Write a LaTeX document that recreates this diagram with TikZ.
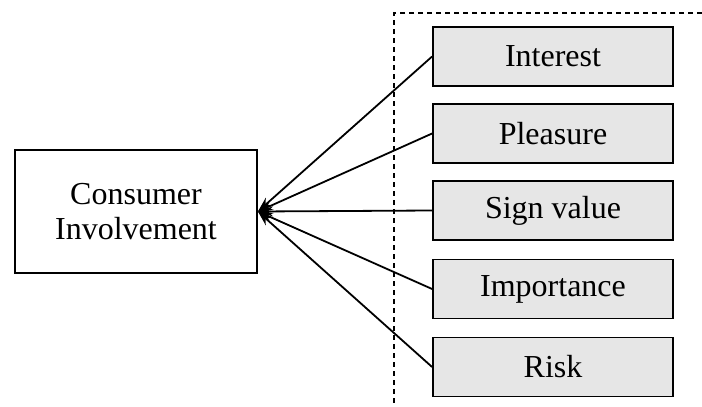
\documentclass[tikz,border=0pt]{standalone}
\usepackage{fontspec}
\setmainfont{Liberation Serif}
\usetikzlibrary{arrows.meta}
\definecolor{boxgray}{HTML}{E6E6E6}
\begin{document}
\begin{tikzpicture}[x=1pt,y=-1pt,
  factor/.style={draw,line width=1.8pt,fill=boxgray,minimum width=240pt,minimum height=59pt,inner sep=0pt,font=\fontsize{32}{36}\selectfont},
  mainbox/.style={draw,line width=1.8pt,fill=white,minimum width=242pt,minimum height=123pt,inner sep=0pt,align=center,font=\fontsize{32}{35}\selectfont},
  link/.style={line width=1.8pt,-{Stealth[length=15pt,width=10pt]}}]
\useasboundingbox (0,0) rectangle (702,407);
% dashed frame around the factors
\draw[line width=1.6pt,dash pattern=on 5pt off 4pt] (702,13) -- (394,13) -- (394,407);
\node[mainbox] (ci) at (136,211.5) {Consumer\\Involvement};
\node[factor] (f1) at (553,56.5) {Interest};
\node[factor] (f2) at (553,133.5) {Pleasure};
\node[factor] (f3) at (553,210.5) {Sign value};
\node[factor] (f4) at (553,289) {Importance};
\node[factor] (f5) at (553,367) {Risk};
\coordinate (tip) at (ci.east);
\foreach \f in {f1,f2,f3,f4,f5}
  \draw[link] (\f.west) -- (tip);
\end{tikzpicture}
\end{document}
